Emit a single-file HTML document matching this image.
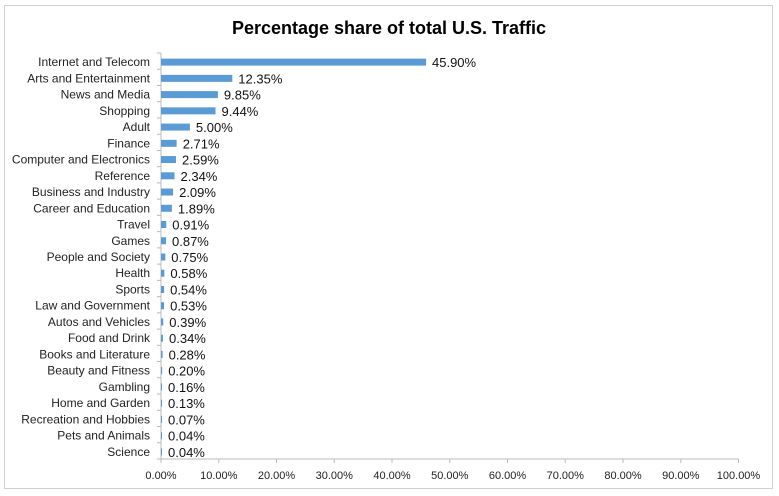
<!DOCTYPE html><html><head><meta charset="utf-8"><style>body{margin:0;background:#fff}svg{display:block}text{font-family:"Liberation Sans",sans-serif}.l{font-size:12px;fill:#222;text-anchor:end}.v{font-size:13px;fill:#111}.t{font-size:11px;fill:#222;text-anchor:middle}</style></head><body>
<svg width="779" height="496" xmlns="http://www.w3.org/2000/svg">
<rect x="4.5" y="5.5" width="768" height="483" fill="#fff" stroke="#d0d0d0"/>
<text x="389" y="34" text-anchor="middle" font-size="18" font-weight="bold" fill="#000">Percentage share of total U.S. Traffic</text>
<path d="M161 53V459H739M157 53h4M157 69.24h4M157 85.48h4M157 101.72h4M157 117.96h4M157 134.2h4M157 150.44h4M157 166.68h4M157 182.92h4M157 199.16h4M157 215.4h4M157 231.64h4M157 247.88h4M157 264.12h4M157 280.36h4M157 296.6h4M157 312.84h4M157 329.08h4M157 345.32h4M157 361.56h4M157 377.8h4M157 394.04h4M157 410.28h4M157 426.52h4M157 442.76h4M157 459h4M161 459v4M218.75 459v4M276.5 459v4M334.25 459v4M392 459v4M449.75 459v4M507.5 459v4M565.25 459v4M623 459v4M680.75 459v4M738.5 459v4" stroke="#bbb" fill="none"/>
<text class="t" x="161" y="479">0.00%</text><text class="t" x="218.75" y="479">10.00%</text><text class="t" x="276.5" y="479">20.00%</text><text class="t" x="334.25" y="479">30.00%</text><text class="t" x="392" y="479">40.00%</text><text class="t" x="449.75" y="479">50.00%</text><text class="t" x="507.5" y="479">60.00%</text><text class="t" x="565.25" y="479">70.00%</text><text class="t" x="623" y="479">80.00%</text><text class="t" x="680.75" y="479">90.00%</text><text class="t" x="738.5" y="479">100.00%</text>
<g fill="#5b9bd5" transform="translate(0,1)">
<g transform="translate(0,61.12)"><text class="l" x="150" y="4">Internet and Telecom</text><rect x="161" y="-3.5" width="265.07" height="7"/><text class="v" x="432" y="5">45.90%</text></g>
<g transform="translate(0,77.36)"><text class="l" x="150" y="4">Arts and Entertainment</text><rect x="161" y="-3.5" width="71.32" height="7"/><text class="v" x="238.3" y="5">12.35%</text></g>
<g transform="translate(0,93.6)"><text class="l" x="150" y="4">News and Media</text><rect x="161" y="-3.5" width="56.88" height="7"/><text class="v" x="223.9" y="5">9.85%</text></g>
<g transform="translate(0,109.84)"><text class="l" x="150" y="4">Shopping</text><rect x="161" y="-3.5" width="54.52" height="7"/><text class="v" x="221.5" y="5">9.44%</text></g>
<g transform="translate(0,126.08)"><text class="l" x="150" y="4">Adult</text><rect x="161" y="-3.5" width="28.88" height="7"/><text class="v" x="195.9" y="5">5.00%</text></g>
<g transform="translate(0,142.32)"><text class="l" x="150" y="4">Finance</text><rect x="161" y="-3.5" width="15.65" height="7"/><text class="v" x="182.7" y="5">2.71%</text></g>
<g transform="translate(0,158.56)"><text class="l" x="150" y="4">Computer and Electronics</text><rect x="161" y="-3.5" width="14.96" height="7"/><text class="v" x="182" y="5">2.59%</text></g>
<g transform="translate(0,174.8)"><text class="l" x="150" y="4">Reference</text><rect x="161" y="-3.5" width="13.51" height="7"/><text class="v" x="180.5" y="5">2.34%</text></g>
<g transform="translate(0,191.04)"><text class="l" x="150" y="4">Business and Industry</text><rect x="161" y="-3.5" width="12.07" height="7"/><text class="v" x="179.1" y="5">2.09%</text></g>
<g transform="translate(0,207.28)"><text class="l" x="150" y="4">Career and Education</text><rect x="161" y="-3.5" width="10.91" height="7"/><text class="v" x="177.9" y="5">1.89%</text></g>
<g transform="translate(0,223.52)"><text class="l" x="150" y="4">Travel</text><rect x="161" y="-3.5" width="5.26" height="7"/><text class="v" x="172.3" y="5">0.91%</text></g>
<g transform="translate(0,239.76)"><text class="l" x="150" y="4">Games</text><rect x="161" y="-3.5" width="5.02" height="7"/><text class="v" x="172" y="5">0.87%</text></g>
<g transform="translate(0,256)"><text class="l" x="150" y="4">People and Society</text><rect x="161" y="-3.5" width="4.33" height="7"/><text class="v" x="171.3" y="5">0.75%</text></g>
<g transform="translate(0,272.24)"><text class="l" x="150" y="4">Health</text><rect x="161" y="-3.5" width="3.35" height="7"/><text class="v" x="170.4" y="5">0.58%</text></g>
<g transform="translate(0,288.48)"><text class="l" x="150" y="4">Sports</text><rect x="161" y="-3.5" width="3.12" height="7"/><text class="v" x="170.1" y="5">0.54%</text></g>
<g transform="translate(0,304.72)"><text class="l" x="150" y="4">Law and Government</text><rect x="161" y="-3.5" width="3.06" height="7"/><text class="v" x="170.1" y="5">0.53%</text></g>
<g transform="translate(0,320.96)"><text class="l" x="150" y="4">Autos and Vehicles</text><rect x="161" y="-3.5" width="2.25" height="7"/><text class="v" x="169.3" y="5">0.39%</text></g>
<g transform="translate(0,337.2)"><text class="l" x="150" y="4">Food and Drink</text><rect x="161" y="-3.5" width="1.96" height="7"/><text class="v" x="169" y="5">0.34%</text></g>
<g transform="translate(0,353.44)"><text class="l" x="150" y="4">Books and Literature</text><rect x="161" y="-3.5" width="1.62" height="7"/><text class="v" x="168.6" y="5">0.28%</text></g>
<g transform="translate(0,369.68)"><text class="l" x="150" y="4">Beauty and Fitness</text><rect x="161" y="-3.5" width="1.16" height="7"/><text class="v" x="168.2" y="5">0.20%</text></g>
<g transform="translate(0,385.92)"><text class="l" x="150" y="4">Gambling</text><rect x="161" y="-3.5" width="1" height="7"/><text class="v" x="168" y="5">0.16%</text></g>
<g transform="translate(0,402.16)"><text class="l" x="150" y="4">Home and Garden</text><rect x="161" y="-3.5" width="1" height="7"/><text class="v" x="168" y="5">0.13%</text></g>
<g transform="translate(0,418.4)"><text class="l" x="150" y="4">Recreation and Hobbies</text><rect x="161" y="-3.5" width="1" height="7"/><text class="v" x="168" y="5">0.07%</text></g>
<g transform="translate(0,434.64)"><text class="l" x="150" y="4">Pets and Animals</text><rect x="161" y="-3.5" width="1" height="7"/><text class="v" x="168" y="5">0.04%</text></g>
<g transform="translate(0,450.88)"><text class="l" x="150" y="4">Science</text><rect x="161" y="-3.5" width="1" height="7"/><text class="v" x="168" y="5">0.04%</text></g>
</g>
</svg></body></html>
